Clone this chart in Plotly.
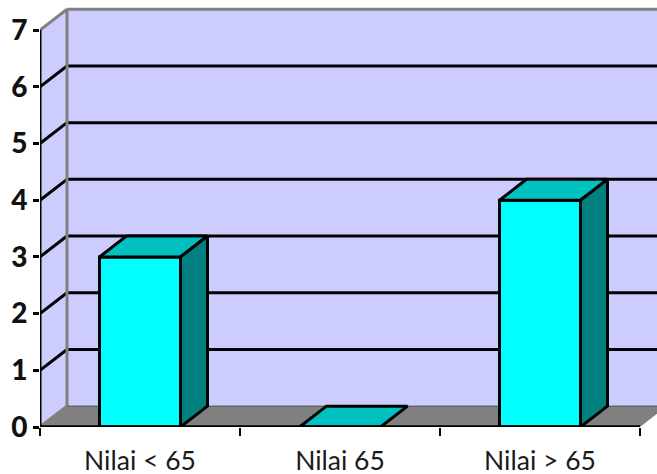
import plotly.graph_objects as go

categories = ["Nilai < 65", "Nilai 65", "Nilai > 65"]
values = [3, 0, 4]
y_ticks = [0, 1, 2, 3, 4, 5, 6, 7]
x_bounds = [0, 1, 2, 3]
positions = [0.5, 1.5, 2.5]

BAR_W = 0.405
DX = 0.135
DY = 0.368
X_MAX = 3.085
Y_MAX = 7.531
Y_TOP = y_ticks[-1]
GRAY = "#808080"
LW = 3

def poly(pts, fill, line_color=None, width=0):
    path = "M " + " L ".join(f"{x},{y}" for x, y in pts) + " Z"
    return dict(type="path", path=path, fillcolor=fill, layer="below",
                xref="x", yref="y",
                line=dict(color=line_color or fill, width=width))

def seg(x0, y0, x1, y1, color, width=LW, layer="below"):
    return dict(type="line", x0=x0, y0=y0, x1=x1, y1=y1, xref="x", yref="y",
                layer=layer, line=dict(color=color, width=width))

shapes = [
    poly([(DX, DY), (X_MAX + 1, DY), (X_MAX + 1, Y_TOP + DY), (DX, Y_TOP + DY)], "#CCCCFF"),
    poly([(0, 0), (DX, DY), (DX, Y_TOP + DY), (0, Y_TOP)], "#CCCCFF"),
    poly([(0, 0), (DX, DY), (x_bounds[-1] + DX, DY), (x_bounds[-1], 0)], GRAY),
]
for v in y_ticks[1:-1]:
    shapes.append(seg(0, v, DX, v + DY, "black"))
    shapes.append(seg(DX, v + DY, X_MAX + 1, v + DY, "black"))
shapes += [
    seg(0, Y_TOP, DX, Y_TOP + DY, GRAY),
    seg(DX, DY, DX, Y_TOP + DY, GRAY),
    seg(DX, Y_TOP + DY, X_MAX + 1, Y_TOP + DY, GRAY),
    seg(0, 0, DX, DY, GRAY),
    seg(DX, DY, X_MAX + 1, DY, "#666666", 1.5),
    seg(0, 0, 0, Y_TOP, "black", layer="above"),
    seg(0, 0, x_bounds[-1], 0, "black", 3.5, layer="above"),
]

fig = go.Figure()
fig.add_trace(go.Bar(x=positions, y=values, width=BAR_W,
                     marker=dict(color="#00FFFF", line=dict(color="black", width=LW)),
                     hoverinfo="skip", showlegend=False))

for p, v in zip(positions, values):
    l, r = p - BAR_W / 2, p + BAR_W / 2
    fig.add_trace(go.Scatter(
        x=[l, l + DX, r + DX, r, l], y=[v, v + DY, v + DY, v, v],
        mode="lines", fill="toself", fillcolor="#00C0C0",
        line=dict(color="black", width=LW), hoverinfo="skip", showlegend=False))
    if v > 0:
        fig.add_trace(go.Scatter(
            x=[r, r + DX, r + DX, r, r], y=[0, DY, v + DY, v, 0],
            mode="lines", fill="toself", fillcolor="#008080",
            line=dict(color="black", width=LW), hoverinfo="skip", showlegend=False))

fig.update_layout(
    width=657, height=474, autosize=False,
    margin=dict(l=40, r=0, t=0, b=47, pad=0),
    paper_bgcolor="white", plot_bgcolor="white",
    shapes=shapes, showlegend=False,
    xaxis=dict(range=[0, X_MAX], tickmode="array", tickvals=positions, ticktext=categories,
               ticks="", showgrid=False, zeroline=False, showline=False, automargin=False,
               tickfont=dict(family="Lato", size=26.5, color="#1a1a1a"),
               ticklabelstandoff=15,
               minor=dict(tickmode="array", tickvals=x_bounds, ticks="outside", ticklen=8,
                          tickwidth=2, tickcolor="black", showgrid=False)),
    yaxis=dict(range=[0, Y_MAX], tickmode="array", tickvals=y_ticks,
               ticks="outside", ticklen=6, tickwidth=2.5, tickcolor="black",
               showgrid=False, zeroline=False, showline=False, automargin=False,
               tickfont=dict(family="Lato", size=28, color="#111111", weight=900)),
)

fig.write_html("out.html", config={"displayModeBar": False},
               post_script="document.body.style.margin='0';")
